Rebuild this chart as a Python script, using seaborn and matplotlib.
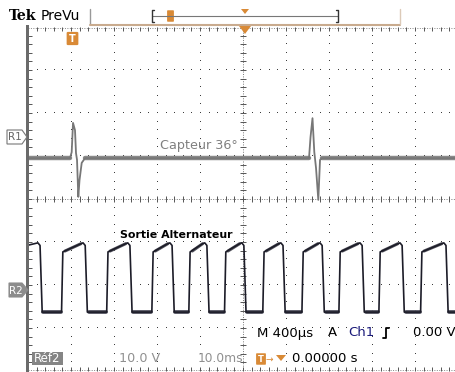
import numpy as np
import pandas as pd
import matplotlib
matplotlib.use("Agg")
import matplotlib.pyplot as plt
from matplotlib.lines import Line2D
from matplotlib.patches import Polygon, Rectangle, FancyBboxPatch
import seaborn as sns

# ---------------- data (time in ms, amplitude in divisions) ----------------
capteur_t = [0.2, 9.77, 10.16, 10.47, 10.93, 11.16, 11.40, 11.70, 11.98, 12.49, 13.26,
             65.35, 65.70, 66.16, 66.58, 66.98, 67.51, 67.91, 68.37, 99.5]
capteur_v = [4.95, 4.95, 5.09, 5.77, 5.60, 5.07, 4.91, 4.05, 4.44, 4.84, 4.95,
             4.95, 5.44, 5.88, 5.09, 4.72, 3.98, 4.91, 4.95, 4.95]
capteur_band_start = [0.2, 13.3, 68.4]
capteur_band_end = [9.8, 65.3, 99.5]

sortie_falls = [2.8, 13.3, 23.7, 33.5, 41.6, 50.2, 59.3, 68.4, 77.7, 87.0, 97.2]
sortie_rises = [8.1, 18.6, 29.1, 37.7, 46.0, 54.9, 64.0, 72.6, 81.9, 91.6]
sortie_low = 1.37
sortie_high_start = 2.77
sortie_high_end = 2.98

x_max = 99.53      # ms visible (10 ms / div)
y_max = 8.0        # divisions

# ---------------- figure ----------------
sns.set_theme(style="white")
plt.rcParams['font.family'] = ['DejaVu Sans']
W, H = 456, 372
fig = plt.figure(figsize=(W / 100, H / 100), dpi=100)
fig.patch.set_facecolor("white")


def P(x, y):
    return (x / W, 1 - y / H)


ax = fig.add_axes([28 / W, 1 / H, 428 / W, 344 / H])
ax.set_xlim(0, x_max)
ax.set_ylim(0, y_max)
ax.set_facecolor("white")
for s in ax.spines.values():
    s.set_visible(False)
ax.set_xticks([])
ax.set_yticks([])

# graticule dots
dot_c = "#3c3c3c"
for k in range(1, 10):
    if k == 5:
        continue
    ys = np.arange(0, 8.001, 0.2)
    ax.plot(np.full_like(ys, k * 10.0), ys, ",", color=dot_c)
for j in range(1, 8):
    if j == 4:
        continue
    xs = np.arange(0, x_max, 2.0)
    ax.plot(xs, np.full_like(xs, j), ",", color=dot_c)

# centre lines with ticks
ax.plot([0, x_max], [4, 4], color="#777777", lw=0.7, ls=(0, (1, 1.5)))
ax.plot([50, 50], [0, 8], color="#777777", lw=0.7, ls=(0, (1, 1.5)))
tx = np.arange(2.0, x_max, 2.0)
ax.plot(tx, np.full_like(tx, 4), "|", color="#555555", ms=4, mew=0.7)
ty = np.arange(0.2, 8.0, 0.2)
ax.plot(np.full_like(ty, 50), ty, "_", color="#555555", ms=4, mew=0.7)

# edge ticks (top, bottom, left)
ax.plot([0, x_max], [7.985, 7.985], color="#888888", lw=0.7, ls=(0, (1, 1.5)))
ax.plot(tx, np.full_like(tx, 7.96), "|", color="#555555", ms=2.5, mew=0.7)
ax.plot([0, x_max], [0.015, 0.015], color="#888888", lw=0.7, ls=(0, (1, 1.5)))
ax.plot(tx, np.full_like(tx, 0.04), "|", color="#555555", ms=2.5, mew=0.7)
ax.plot(np.full_like(ty, 0.5), ty, "_", color="#555555", ms=3, mew=0.7)

# ---------------- traces ----------------
cap_df = pd.DataFrame({"t": capteur_t, "v": capteur_v})
for a, b in zip(capteur_band_start, capteur_band_end):
    band = pd.DataFrame({"t": [a, b], "v": [4.95, 4.95]})
    sns.lineplot(data=band, x="t", y="v", ax=ax, color="#8a8a8a", lw=3.2,
                 sort=False, estimator=None, legend=False)
sns.lineplot(data=cap_df, x="t", y="v", ax=ax, color="#777777", lw=1.3,
             sort=False, estimator=None, legend=False)

sx, sy = [0.2], [2.93]
for i, f in enumerate(sortie_falls):
    sx += [f - 0.5, f, f + 0.5]
    sy += [sortie_high_end, sortie_high_end - 0.06, sortie_low]
    if i < len(sortie_rises):
        r = sortie_rises[i]
        nf = sortie_falls[i + 1]
        sx += [r - 0.3, r, nf - 1.0]
        sy += [sortie_low, sortie_high_start, sortie_high_end - 0.02]
sx += [x_max]
sy += [sortie_low]

# noisy low plateaus drawn as a band
for i, f in enumerate(sortie_falls):
    end = sortie_rises[i] - 0.4 if i < len(sortie_rises) else x_max
    low_band = pd.DataFrame({"t": [f + 0.8, end], "v": [sortie_low, sortie_low]})
    sns.lineplot(data=low_band, x="t", y="v", ax=ax, color="#5a5a66", lw=2.8,
                 sort=False, estimator=None, legend=False)
for i, r in enumerate(sortie_rises):
    nf = sortie_falls[i + 1]
    hi_band = pd.DataFrame({"t": [r + 0.5, nf - 1.0],
                            "v": [sortie_high_start + 0.02, sortie_high_end - 0.02]})
    sns.lineplot(data=hi_band, x="t", y="v", ax=ax, color="#55555f", lw=2.2,
                 sort=False, estimator=None, legend=False)

sortie_df = pd.DataFrame({"t": sx, "v": sy})
sns.lineplot(data=sortie_df, x="t", y="v", ax=ax, color="#1c1c28", lw=1.2,
             sort=False, estimator=None, legend=False)
ax.set_xlabel("")
ax.set_ylabel("")

# ---------------- overlays ----------------
orange = "#d98a36"
# left thick bar
fig.add_artist(Rectangle(P(26, 372), 3 / W, 347 / H, color="#6a6a6a", lw=0))

# header
fig.text(*P(9, 16), "Tek", fontfamily="DejaVu Serif", fontweight="bold",
         fontsize=10.2, va="center", ha="left", color="black")
fig.text(*P(41, 16), "PreVu", fontsize=10, va="center", ha="left", color="black")
fig.add_artist(Line2D([90 / W, 90 / W], [1 - 9 / H, 1 - 24 / H], color="#999999", lw=1))
fig.add_artist(Line2D([90 / W, 400 / W], [1 - 24.5 / H, 1 - 24.5 / H], color="#c9ab8e", lw=1.5))
fig.add_artist(Line2D([400 / W, 400 / W], [1 - 9 / H, 1 - 24 / H], color="#dccab8", lw=1))
# record bracket
fig.add_artist(Line2D([152 / W, 338 / W], [1 - 16 / H, 1 - 16 / H], color="#777777", lw=0.8))
for bx, d in [(152, 1), (338, -1)]:
    fig.add_artist(Line2D([(bx + 2 * d) / W, bx / W, bx / W, (bx + 2 * d) / W],
                          [1 - 10 / H, 1 - 10 / H, 1 - 22 / H, 1 - 22 / H],
                          color="#333333", lw=1))
fig.add_artist(FancyBboxPatch(P(168, 21), 5 / W, 10 / H,
                              boxstyle="round,pad=0.002", color=orange, lw=0))
fig.add_artist(Polygon([P(241, 9), P(249, 9), P(245, 14)], closed=True, color=orange, lw=0))

# trigger position marker and T shield
fig.add_artist(Polygon([P(239, 26), P(251, 26), P(245, 34)], closed=True, color=orange, lw=0))
fig.add_artist(FancyBboxPatch(P(68, 44), 9 / W, 11 / H,
                              boxstyle="round,pad=0.003", color=orange, lw=0))
fig.text(*P(72.5, 38.5), "T", fontsize=7, fontweight="bold", color="white",
         ha="center", va="center")

# reference markers
fig.add_artist(Polygon([P(7, 130), P(22, 130), P(27, 137), P(22, 144), P(7, 144)],
                       closed=True, facecolor="white", edgecolor="#777777", lw=0.8))
fig.text(*P(15, 137.5), "R1", fontsize=7.5, color="#666666", ha="center", va="center")
fig.add_artist(Polygon([P(9, 283), P(22, 283), P(28, 290), P(22, 297), P(9, 297)],
                       closed=True, facecolor="#8c8c8c", edgecolor="#8c8c8c", lw=0.8))
fig.text(*P(16, 290.5), "R2", fontsize=7.5, color="white", ha="center", va="center")

# trace labels
fig.text(*P(160, 145), "Capteur 36°", fontsize=9.2, color="#808080",
         ha="left", va="center")
fig.text(*P(120, 235), "Sortie Alternateur", fontsize=7.9, fontweight="bold",
         color="black", ha="left", va="center")

# status readouts
fs = 9.5
fig.text(*P(257, 333), "M 400µs", fontsize=fs, color="black", ha="left", va="center")
fig.text(*P(328, 333), "A", fontsize=fs, color="black", ha="left", va="center")
fig.text(*P(348, 333), "Ch1", fontsize=fs, color="#1a1a7a", ha="left", va="center")
fig.add_artist(Line2D([383 / W, 386 / W, 386 / W, 389 / W],
                      [1 - 338 / H, 1 - 338 / H, 1 - 328 / H, 1 - 328 / H],
                      color="black", lw=1.3))
fig.text(*P(413, 333), "0.00 V", fontsize=fs, color="black", ha="left", va="center")

fig.add_artist(Rectangle(P(32, 365), 31 / W, 13 / H, color="#858585", lw=0))
fig.text(*P(47.5, 358.5), "Réf2", fontsize=8.5, color="white", ha="center", va="center")
fig.text(*P(119, 359), "10.0 V", fontsize=9.2, color="#909090", ha="left", va="center")
fig.text(*P(198, 359), "10.0ms", fontsize=8.8, color="#909090", ha="left", va="center")
fig.add_artist(FancyBboxPatch(P(257, 364), 8 / W, 10 / H,
                              boxstyle="round,pad=0.002", color=orange, lw=0))
fig.text(*P(261, 359), "T", fontsize=6, fontweight="bold", color="white",
         ha="center", va="center")
fig.text(*P(266, 359), "→", fontsize=6.5, color=orange, ha="left", va="center")
fig.add_artist(Polygon([P(276, 355), P(286, 355), P(281, 361)], closed=True, color=orange, lw=0))
fig.text(*P(292, 359), "0.00000 s", fontsize=fs, color="black", ha="left", va="center")

fig.savefig("out.png", dpi=100)
